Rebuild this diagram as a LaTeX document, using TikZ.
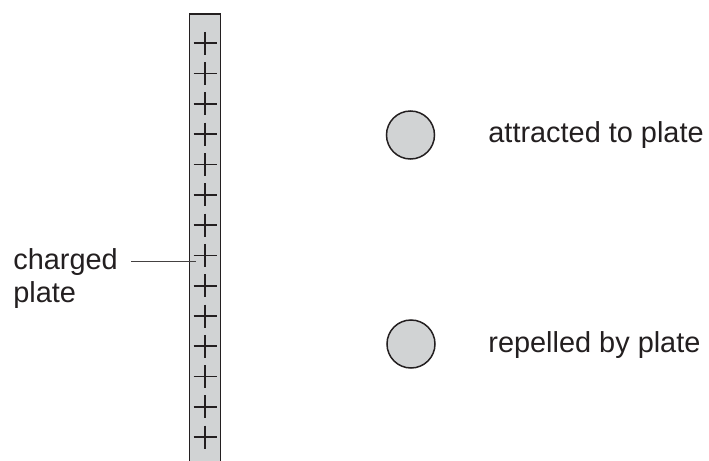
\documentclass[tikz,border=0pt]{standalone}
\usepackage{fontspec}
\setmainfont{Liberation Sans}
\usepackage{tikz}

\definecolor{inkgray}{RGB}{35,31,32}
\definecolor{platefill}{RGB}{209,211,212}

\begin{document}
\begin{tikzpicture}[x=0.5pt,y=0.5pt,yscale=-1,xscale=1,
    plate/.style={draw=inkgray,fill=platefill,line width=0.9pt},
    charge/.style={draw=inkgray,line width=0.85pt},
    particle/.style={circle,draw=inkgray,fill=platefill,line width=0.75pt,minimum size=24pt,inner sep=0pt},
    label/.style={inner sep=0pt,text=inkgray,font=\fontsize{14.45}{16.5}\selectfont},
    leader/.style={draw=inkgray!85,line width=0.4pt}]
        \useasboundingbox (0,0) rectangle (709,461);

        %Shape: Plate (open at the bottom)
        \draw [plate] (189.5,463) -- (189.5,14) -- (220.5,14) -- (220.5,463) ;
        %Plus signs on the plate
        \foreach \i in {0,...,13}{
            \draw [charge] (193.5,{43.3+30.3*\i}) -- (216.5,{43.3+30.3*\i}) ;
            \draw [charge] (205,{31.8+30.3*\i}) -- (205,{54.8+30.3*\i}) ;
        }

        %Shape: Circles
        \node [particle] (ballup) at (410.5,135) {};
        \node [particle] (balldown) at (411,344) {};

        % Text Node
        \node [label,anchor=base west] (txtattracted) at (488,142.5) {attracted to plate};
        % Text Node
        \node [label,anchor=base west] (txtrepelled) at (488,352) {repelled by plate};
        % Text Node
        \node [label,anchor=base west] (txtcharged) at (13,269) {charged};
        \node [label,anchor=base west] (txtplate) at (13,302) {plate};

        %Straight Lines: leader to the plate
        \coordinate (platept) at (196,262);
        \draw [leader] ([xshift=6.5pt]txtcharged.east) -- (txtcharged.east -| platept) ;

\end{tikzpicture}
\end{document}
